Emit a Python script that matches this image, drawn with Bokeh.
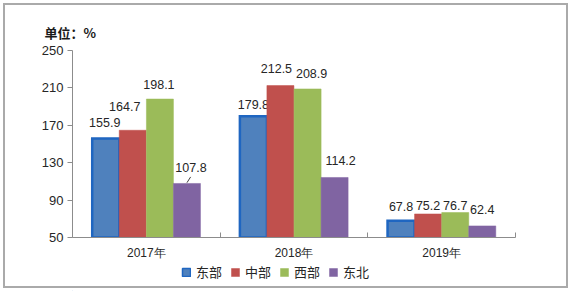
from bokeh.plotting import figure
from bokeh.layouts import column
from bokeh.models import (ColumnDataSource, Range1d, FixedTicker, Legend, LegendItem,
                          InlineStyleSheet)
from bokeh.transform import dodge
from bokeh.embed import file_html
from bokeh.resources import INLINE
from bokeh.core.properties import value

# ---- data ----
years = ["2017年", "2018年", "2019年"]
regions = ["东部", "中部", "西部", "东北"]
east = [155.9, 179.8, 67.8]
central = [164.7, 212.5, 75.2]
west = [198.1, 208.9, 76.7]
northeast = [107.8, 114.2, 62.4]
y_ticks = [50, 90, 130, 170, 210, 250]
unit_text = "单位：%"

series = [east, central, west, northeast]
colors = ["#4F81BD", "#C0504D", "#9BBB59", "#8064A2"]
edge = ["#1F66C1", "#C0504D", "#9BBB59", "#8064A2"]
edge_w = [2.5, 0.5, 0.5, 0.5]
offsets = [-0.275, -0.092, 0.092, 0.275]
bar_w = 0.183
# label pixel nudges (style): [series][year]
label_dx = [[-1, 0, 0], [-8, -4, 0], [-1, 4, 0], [4, 6, 0]]
label_dy = [[16, 12, 14], [24, 17, 8], [15, 15, 7], [16, 17, 16]]

FONT = "Liberation Sans"
CJK = "Noto Sans CJK SC"

p = figure(width=571, height=262, output_backend="svg", toolbar_location=None,
           x_range=Range1d(0, 3), y_range=Range1d(50, 250),
           min_border_left=72, min_border_right=56, min_border_top=50,
           min_border_bottom=25, background_fill_color="white",
           border_fill_alpha=0, outline_line_color=None,
           title=unit_text)

p.title.align = "left"
p.title.offset = -28
p.title.text_font = CJK
p.title.text_font_size = "13px"
p.title.text_font_style = "bold"
p.title.text_color = "#1a1a1a"
p.title.standoff = 18

centers = [i + 0.5 for i in range(len(years))]
for k, vals in enumerate(series):
    src = ColumnDataSource(dict(
        x=centers, top=vals, label=[f"{v:.1f}" for v in vals],
        dx=label_dx[k], dy=[-d for d in label_dy[k]]))
    p.vbar(x=dodge("x", offsets[k]), top="top", bottom=50, width=bar_w,
           source=src, fill_color=colors[k], line_color=edge[k],
           line_width=edge_w[k], line_join="miter")
    p.text(x=dodge("x", offsets[k]), y="top", text="label", source=src,
           x_offset="dx", y_offset="dy", text_align="center",
           text_baseline="middle", text_font=value(FONT),
           text_font_size="12.5px", text_color="#262626")

# leader line for the 东北 2017 label
p.segment(x0=[centers[0] + offsets[3]], y0=[northeast[0] + 0.8],
          x1=[centers[0] + offsets[3] + 0.025], y1=[northeast[0] + 7],
          line_color="#404040", line_width=1)

p.grid.visible = False

# y axis
ya = p.yaxis[0]
ya.ticker = FixedTicker(ticks=y_ticks)
ya.axis_line_color = "#8C8C8C"
ya.major_tick_line_color = "#8C8C8C"
ya.major_tick_out = 5
ya.major_tick_in = 0
ya.minor_tick_line_color = None
ya.major_label_text_font = FONT
ya.major_label_text_font_size = "13px"
ya.major_label_text_color = "#262626"
ya.major_label_standoff = 4

# x axis
xa = p.xaxis[0]
xa.ticker = FixedTicker(ticks=centers, minor_ticks=[0, 1, 2, 3])
xa.major_label_overrides = {c: y for c, y in zip(centers, years)}
xa.axis_line_color = "#8C8C8C"
xa.major_tick_line_color = None
xa.minor_tick_line_color = "#8C8C8C"
xa.minor_tick_in = 5
xa.minor_tick_out = 0
xa.major_label_text_font = FONT
xa.major_label_text_font_size = "12px"
xa.major_label_text_color = "#262626"
xa.major_label_standoff = 2

# legend strip (separate small figure below the chart)
leg = figure(width=571, height=29, output_backend="svg", toolbar_location=None,
             x_range=Range1d(0, 1), y_range=Range1d(0, 1),
             x_axis_type=None, y_axis_type=None, title=None,
             min_border=0, background_fill_alpha=0, border_fill_alpha=0,
             outline_line_color=None)
leg.grid.visible = False
items = []
for k, name in enumerate(regions):
    r = leg.vbar(x=[-10], top=[-10], width=0.1, fill_color=colors[k],
                 line_color=edge[k], line_width=min(edge_w[k], 1.5))
    items.append(LegendItem(label=name, renderers=[r]))
legend = Legend(items=items, orientation="horizontal", location=(109, 10),
                glyph_width=10, glyph_height=10, label_standoff=5, spacing=8,
                padding=0, margin=0, border_line_color=None,
                background_fill_alpha=0, label_text_font=CJK,
                label_text_font_size="13px", label_text_color="#262626",
                label_height=12)
leg.add_layout(legend, "center")

layout = column(p, leg, spacing=0)
layout.stylesheets = [InlineStyleSheet(css=":host { background: white; box-shadow: inset 0 0 0 3px white, inset 0 0 0 5px #AAAAAA; }")]

open("out.html", "w").write(file_html(layout, INLINE))
